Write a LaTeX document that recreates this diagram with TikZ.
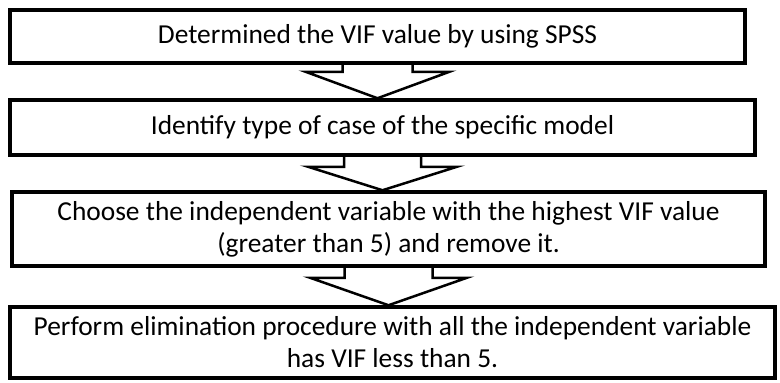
\documentclass[tikz,border=0pt]{standalone}
\usepackage{fontspec}
\setmainfont{Carlito}
\usetikzlibrary{calc}
\tikzset{
  stepbox/.style={draw, line width=3.5pt, align=center, inner sep=0pt, font=\fontsize{27.4}{32}\selectfont},
  blockarrow/.style={draw, line width=2.5pt, line join=miter}
}
\begin{document}
\begin{tikzpicture}[x=1pt, y=-1pt]
    \useasboundingbox (0,0) rectangle (780,383);

    % Procedure steps
    \node[stepbox, minimum width=735pt, minimum height=53pt] (vif) at (377.5,36.5) {Determined the VIF value by using SPSS};
    \node[stepbox, minimum width=745pt, minimum height=55pt] (case) at (382.5,127.5) {Identify type of case of the specific model};
    \node[stepbox, minimum width=753pt, minimum height=74pt] (choose) at (388.5,229) {Choose the independent variable with the highest VIF value\\(greater than 5) and remove it.};
    \node[stepbox, minimum width=765pt, minimum height=71pt] (elim) at (392.5,342.5) {Perform elimination procedure with all the independent variable\\has VIF less than 5.};

    % Block arrows between the steps
    \draw[blockarrow] ([xshift=-35pt]vif.south) -- ++(0,7) -- ++(-37,0) -- (vif.south |- case.north) -- ($(vif.south)+(72,7)$) -- ++(-37,0) -- ([xshift=35pt]vif.south);
    \draw[blockarrow] ([xshift=-38.5pt]case.south) -- ++(0,10) -- ++(-36,0) -- (case.south |- choose.north) -- ($(case.south)+(74.5,10)$) -- ++(-36,0) -- ([xshift=38.5pt]case.south);
    \draw[blockarrow] ([xshift=-44pt]choose.south) -- ++(0,10) -- ++(-34.5,0) -- (choose.south |- elim.north) -- ($(choose.south)+(78.5,10)$) -- ++(-34.5,0) -- ([xshift=44pt]choose.south);
\end{tikzpicture}
\end{document}
